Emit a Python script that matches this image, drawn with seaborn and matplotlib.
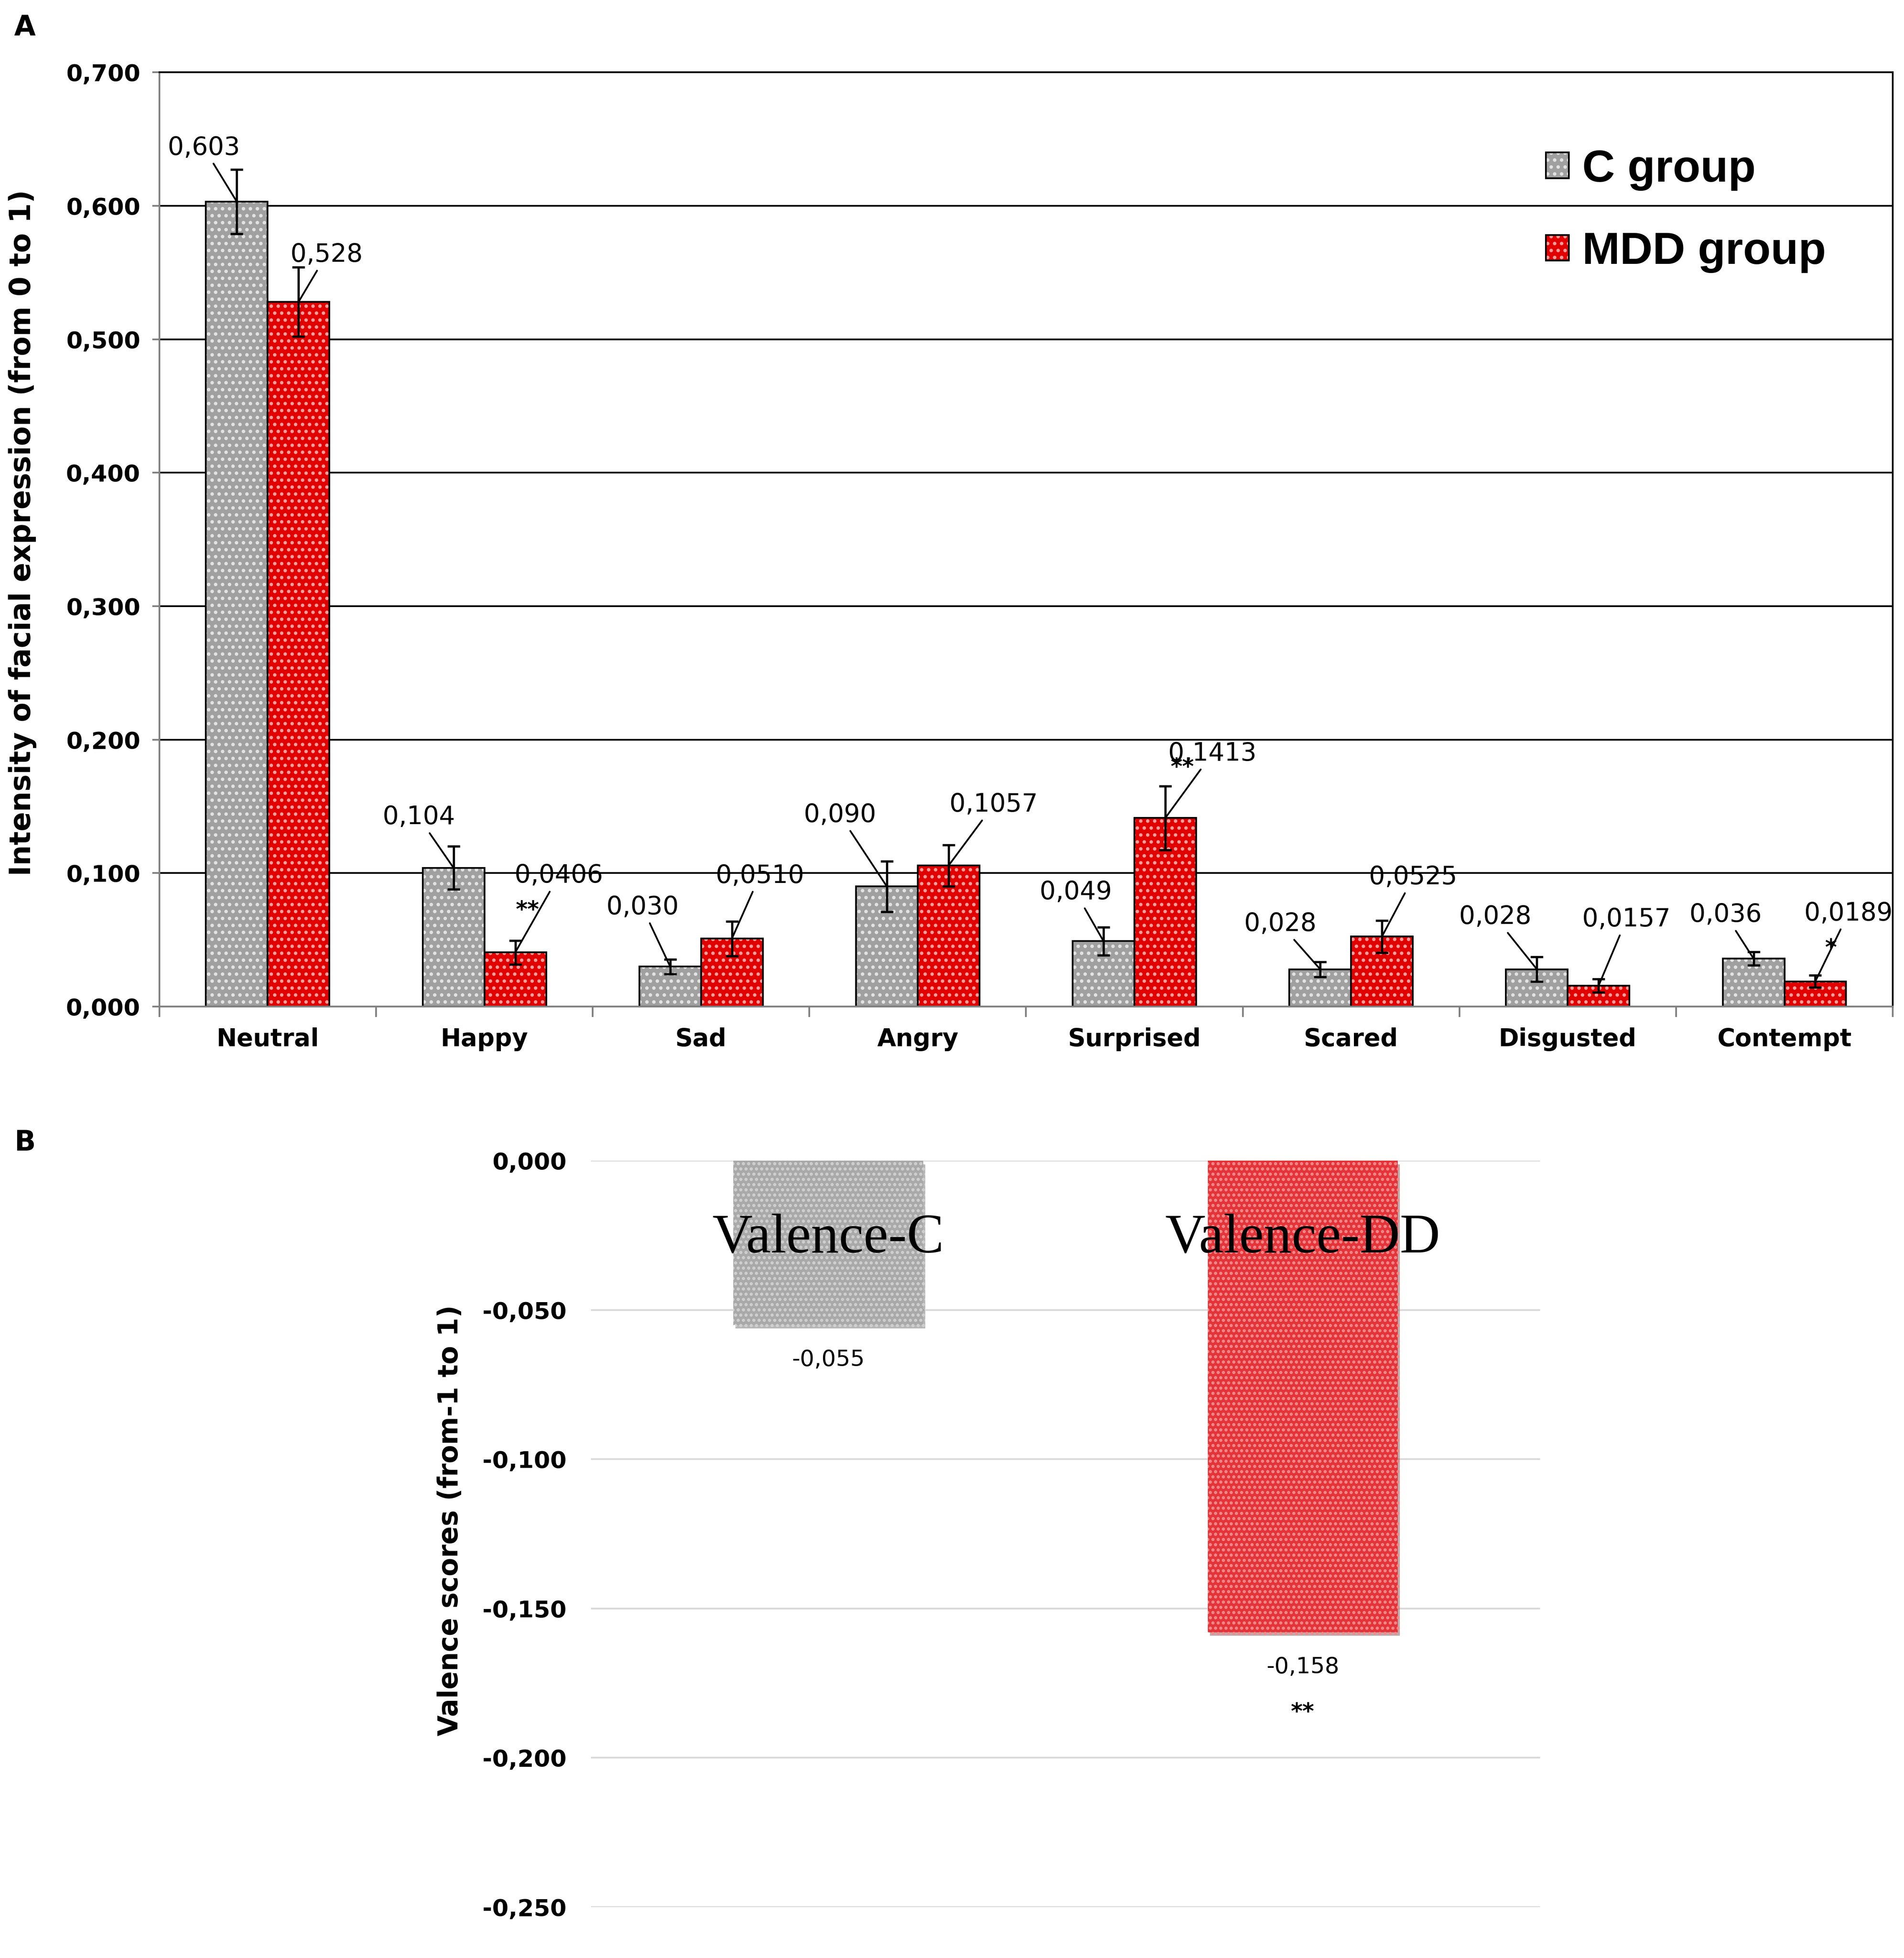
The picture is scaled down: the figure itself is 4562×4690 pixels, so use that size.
import matplotlib
matplotlib.use('Agg')
import matplotlib.pyplot as plt
import matplotlib.colors as mcolors
import matplotlib.patheffects as pe
from matplotlib.ticker import FuncFormatter, MultipleLocator, FixedLocator
import seaborn as sns
import pandas as pd

# ---- data (panel A) ----
emotions = ['Neutral', 'Happy', 'Sad', 'Angry', 'Surprised', 'Scared', 'Disgusted', 'Contempt']
groups = ['C group', 'MDD group']
c_means = [0.603, 0.104, 0.030, 0.090, 0.049, 0.028, 0.028, 0.036]
c_errs = [0.024, 0.016, 0.0055, 0.019, 0.0105, 0.0056, 0.0093, 0.005]
mdd_means = [0.528, 0.0406, 0.0510, 0.1057, 0.1413, 0.0525, 0.0157, 0.0189]
mdd_errs = [0.026, 0.009, 0.013, 0.0155, 0.024, 0.012, 0.005, 0.0045]
c_decimals = [3, 3, 3, 3, 3, 3, 3, 3]
mdd_decimals = [3, 4, 4, 4, 4, 4, 4, 4]
mdd_stars = ['', '**', '', '', '**', '', '', '*']

# ---- data (panel B) ----
valence_groups = ['Valence-C', 'Valence-DD']
valence_scores = [-0.055, -0.158]
valence_stars = ['', '**']

# label offsets (points) from bar top
c_label_off = [(-19, 31), (-20, 29), (-16, 34), (-27, 41), (-16, 28), (-23, 26), (-24, 30), (-16, 25)]
mdd_label_off = [(16, 27), (25, 44), (16, 36), (26, 35), (27, 37), (18, 34), (16, 38), (19, 39)]
mdd_star_off = [(0, 0), (7, 24), (0, 0), (0, 0), (10, 29), (0, 0), (0, 0), (9, 19)]

GRAY, GRAY_DOT = '#a0a0a0', '#e2e2e2'
RED, RED_DOT = '#e00000', '#ff9c9c'
GRAY_B, GRAY_B_DOT = '#a9a9a9', '#d0d0d0'
RED_B, RED_B_DOT = '#e3343a', '#f48a8a'

plt.rcParams['hatch.linewidth'] = 1.2
comma = FuncFormatter(lambda v, pos: f'{v:.3f}'.replace('.', ','))


def texture(patch, dot_color, hatch='...'):
    patch.set_hatch(hatch)
    patch._hatch_color = mcolors.to_rgba(dot_color)


fig = plt.figure(figsize=(4562 / 300, 4690 / 300), dpi=300)

# ================= Panel A =================
ax_a = fig.add_axes([0.0837, 0.4859, 0.9104, 0.4772])
df_a = pd.DataFrame({
    'Emotion': emotions * 2,
    'Group': [groups[0]] * len(emotions) + [groups[1]] * len(emotions),
    'Intensity': c_means + mdd_means,
})
sns.barplot(data=df_a, x='Emotion', y='Intensity', hue='Group', order=emotions,
            hue_order=groups, palette={groups[0]: GRAY, groups[1]: RED},
            width=0.57, errorbar=None, saturation=1, edgecolor='black',
            linewidth=1.0, ax=ax_a, zorder=2)

ax_a.set_xlim(-0.5, len(emotions) - 0.5)
ax_a.set_ylim(0, 0.7)
ax_a.yaxis.set_major_locator(MultipleLocator(0.1))
ax_a.yaxis.set_major_formatter(comma)
ax_a.set_axisbelow(True)
ax_a.yaxis.grid(True, color='black', lw=1.0)
ax_a.xaxis.grid(False)
ax_a.yaxis.get_gridlines()[0].set_visible(False)

ax_a.xaxis.set_minor_locator(FixedLocator([i - 0.5 for i in range(len(emotions) + 1)]))
ax_a.tick_params(axis='x', which='major', length=0, pad=12, labelsize=14)
ax_a.tick_params(axis='x', which='minor', length=6, width=1.0, color='#808080', direction='out')
ax_a.tick_params(axis='y', which='major', length=4, width=1.0, color='#808080', pad=7, labelsize=13.5)
for lbl in ax_a.get_xticklabels() + ax_a.get_yticklabels():
    lbl.set_fontweight('bold')

for side in ['top', 'right']:
    ax_a.spines[side].set_color('black')
    ax_a.spines[side].set_linewidth(1.0)
for side in ['left', 'bottom']:
    ax_a.spines[side].set_color('#808080')
    ax_a.spines[side].set_linewidth(1.0)

ax_a.set_xlabel('')
ax_a.set_ylabel('Intensity of facial expression (from 0 to 1)', fontsize=16.5,
                fontweight='bold', va='center')
ax_a.yaxis.set_label_coords(-0.079, 0.507)

series = [
    (c_means, c_errs, c_decimals, c_label_off, None, None, GRAY_DOT),
    (mdd_means, mdd_errs, mdd_decimals, mdd_label_off, mdd_stars, mdd_star_off, RED_DOT),
]
for container, (means, errs, decs, offs, stars, star_offs, dot) in zip(ax_a.containers, series):
    xs = []
    for bar in container:
        texture(bar, dot)
        xs.append(bar.get_x() + bar.get_width() / 2)
    ax_a.errorbar(xs, means, yerr=errs, fmt='none', ecolor='black', elinewidth=1.3,
                  capsize=3.5, capthick=1.3, zorder=3)
    for i, (x, m) in enumerate(zip(xs, means)):
        ax_a.annotate(f'{m:.{decs[i]}f}'.replace('.', ','), xy=(x, m), xytext=offs[i],
                      textcoords='offset points', ha='center', va='center', fontsize=14.5,
                      arrowprops=dict(arrowstyle='-', color='black', lw=1.0,
                                      shrinkA=0, shrinkB=0), zorder=4)
        if stars and stars[i]:
            ax_a.annotate(stars[i], xy=(x, m), xytext=star_offs[i], textcoords='offset points',
                          ha='center', va='center', fontsize=13, fontweight='bold', zorder=4)

sns.move_legend(ax_a, 'upper left', bbox_to_anchor=(0.80, 0.918), title=None, frameon=False,
                prop={'family': 'Liberation Sans', 'weight': 'bold', 'size': 26},
                handlelength=0.5, handleheight=0.5, handletextpad=0.3, labelspacing=0.9,
                borderpad=0, borderaxespad=0)
for h, dot in zip(ax_a.get_legend().legend_handles, [GRAY_DOT, RED_DOT]):
    h.set_edgecolor('black')
    h.set_linewidth(1.0)
    texture(h, dot)

# ================= Panel B =================
ax_b = fig.add_axes([0.3104, 0.0260, 0.4985, 0.3812])
sns.barplot(x=valence_groups, y=valence_scores, hue=valence_groups,
            palette=[GRAY_B, RED_B], width=0.4, saturation=1, legend=False,
            linewidth=0, ax=ax_b, zorder=2)
for bar, dot in zip(ax_b.patches, [GRAY_B_DOT, RED_B_DOT]):
    texture(bar, dot, '....')
    bar.set_path_effects([pe.SimplePatchShadow(offset=(1.2, -2.0), alpha=0.35), pe.Normal()])

ax_b.set_xlim(-0.5, len(valence_groups) - 0.5)
ax_b.set_ylim(-0.25, 0)
ax_b.yaxis.set_major_locator(MultipleLocator(0.05))
ax_b.yaxis.set_major_formatter(comma)
ax_b.set_axisbelow(True)
ax_b.xaxis.set_zorder(5)
ax_b.yaxis.grid(True, color='#d9d9d9', lw=1.0)
for side in ax_b.spines.values():
    side.set_visible(False)
ax_b.tick_params(axis='y', length=0, pad=14, labelsize=13.5)
for lbl in ax_b.get_yticklabels():
    lbl.set_fontweight('bold')

ax_b.xaxis.set_ticks_position('top')
ax_b.tick_params(axis='x', length=0, labeltop=True, labelbottom=False, pad=-45,
                 labelsize=32)
for tick in ax_b.xaxis.get_major_ticks():
    tick.label2.set_va('center')
    tick.label2.set_family('Liberation Serif')

ax_b.set_xlabel('')
ax_b.set_ylabel('Valence scores (from-1 to 1)', fontsize=15.5, fontweight='bold', va='center')
ax_b.yaxis.set_label_coords(-0.148, 0.518)

for i, (bar, v) in enumerate(zip(ax_b.patches, valence_scores)):
    x = bar.get_x() + bar.get_width() / 2
    ax_b.annotate(f'{v:.3f}'.replace('.', ','), xy=(x, v), xytext=(0, -20),
                  textcoords='offset points', ha='center', va='center', fontsize=13)
    if valence_stars[i]:
        ax_b.annotate(valence_stars[i], xy=(x, v), xytext=(0, -46),
                      textcoords='offset points', ha='center', va='center',
                      fontsize=13, fontweight='bold')

fig.text(0.0131, 0.986, 'A', fontsize=16, fontweight='bold', ha='center', va='center')
fig.text(0.0131, 0.4164, 'B', fontsize=16, fontweight='bold', ha='center', va='center')

fig.savefig('out.png', dpi=300)
